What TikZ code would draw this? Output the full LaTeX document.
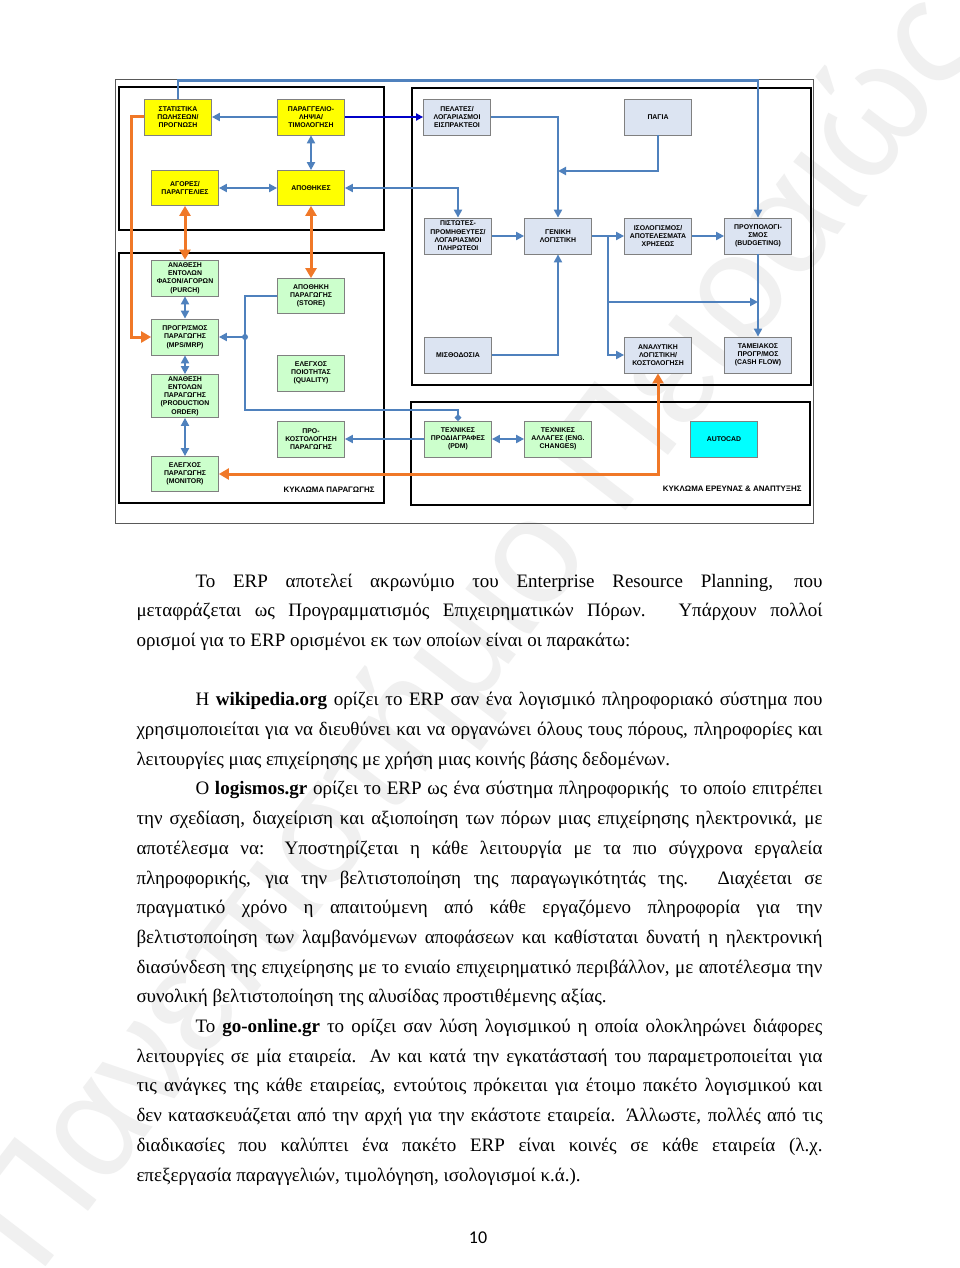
\documentclass[tikz,border=0pt]{standalone}
\usepackage{fontspec}
\setmainfont{Liberation Serif}
\newfontfamily\diagfont{Liberation Sans}
\newfontfamily\pagenumfont{Carlito}
\usetikzlibrary{arrows.meta,positioning}

\definecolor{boxyellow}{RGB}{255,255,0}
\definecolor{boxgreen}{RGB}{204,255,204}
\definecolor{boxgray}{RGB}{220,228,242}
\definecolor{boxcyan}{RGB}{0,255,255}
\definecolor{linkblue}{RGB}{79,129,189}
\definecolor{linknavy}{RGB}{0,0,200}
\definecolor{linkorange}{RGB}{240,120,40}

\tikzset{
every picture/.style={
line width=1pt
}}
\tikzset{
  module/.style={draw=black!50, line width=0.8pt, minimum width=67pt,
    minimum height=36pt, inner sep=1pt, align=center,
    font=\diagfont\fontsize{6.9}{8.3}\selectfont\bfseries},
  sales/.style={module, fill=boxyellow},
  production/.style={module, fill=boxgreen},
  accounts/.style={module, fill=boxgray},
  circuit/.style={draw=black, line width=2.6pt},
  circuitlabel/.style={anchor=east, inner sep=0pt,
    font=\diagfont\fontsize{7.9}{9}\selectfont\bfseries},
  bluelink/.style={draw=linkblue, line width=2.2pt, >={Triangle[length=8pt,width=8pt]}},
  navylink/.style={draw=linknavy, line width=1.8pt, >={Triangle[length=7pt,width=7pt]}},
  orangelink/.style={draw=linkorange, line width=3pt, >={Triangle[length=10pt,width=11pt]}},
  bodytext/.style={anchor=base west, inner sep=0pt, font=\fontsize{19}{29.7}\selectfont}
}

% one justified line of the page text
\newcommand{\justline}[4]{%
  \node[bodytext] (#1) at (#2,{587+29.7*#3}) {\makebox[\dimexpr 822pt-#2pt\relax][s]{#4}};}
% last line of a paragraph, not stretched
\newcommand{\lastline}[4]{%
  \node[bodytext] (#1) at (#2,{587+29.7*#3}) {#4};}

\begin{document}
\begin{tikzpicture}[x=1pt, y=-1pt]
\useasboundingbox (0,0) rectangle (960,1268);
\fill[white] (0,0) rectangle (960,1268);
\begin{scope}
\clip (0,0) rectangle (960,1268);
\node[rotate=52.5, text=black!6, font=\diagfont\fontsize{150}{150}\selectfont] (watermark)
  at (480,634) {Πανεπιστήμιο Πειραιώς};
\end{scope}

% frames of the circuits
\draw[black!65, line width=0.8pt] (115,79) rectangle (813,523);
\draw[circuit] (119,87) rectangle (384,230);
\draw[circuit] (119,253) rectangle (384,503);
\draw[circuit] (412,88) rectangle (811,385);
\draw[circuit] (411,402) rectangle (810,505);
\node[circuitlabel] (prodlabel) at (375,490) {ΚΥΚΛΩΜΑ ΠΑΡΑΓΩΓΗΣ};
\node[circuitlabel] (rndlabel) at (802,489) {ΚΥΚΛΩΜΑ ΕΡΕΥΝΑΣ \& ΑΝΑΠΤΥΞΗΣ};

% sales and stores
\node[sales] (stat) at (178,117) {ΣΤΑΤΙΣΤΙΚΑ\\ΠΩΛΗΣΕΩΝ/\\ΠΡΟΓΝΩΣΗ};
\node[sales] (orders) at (311,117) {ΠΑΡΑΓΓΕΛΙΟ-\\ΛΗΨΙΑ/\\ΤΙΜΟΛΟΓΗΣΗ};
\node[sales, minimum height=35pt] (markets) at (185,188) {ΑΓΟΡΕΣ/\\ΠΑΡΑΓΓΕΛΙΕΣ};
\node[sales, minimum height=35pt] (stores) at (311,188) {ΑΠΟΘΗΚΕΣ};

% production
\node[production] (purch) at (185,278) {ΑΝΑΘΕΣΗ\\ΕΝΤΟΛΩΝ\\ΦΑΣΟΝ/ΑΓΟΡΩΝ\\(PURCH)};
\node[production] (mps) at (185,337) {ΠΡΟΓΡ/ΣΜΟΣ\\ΠΑΡΑΓΩΓΗΣ\\(MPS/MRP)};
\node[production, minimum height=43pt] (prodorder) at (185,396) {ΑΝΑΘΕΣΗ\\ΕΝΤΟΛΩΝ\\ΠΑΡΑΓΩΓΗΣ\\(PRODUCTION\\ORDER)};
\node[production, minimum height=35pt] (monitor) at (185,474) {ΕΛΕΓΧΟΣ\\ΠΑΡΑΓΩΓΗΣ\\(MONITOR)};
\node[production, minimum height=35pt] (store) at (311,296) {ΑΠΟΘΗΚΗ\\ΠΑΡΑΓΩΓΗΣ\\(STORE)};
\node[production] (quality) at (311,373) {ΕΛΕΓΧΟΣ\\ΠΟΙΟΤΗΤΑΣ\\(QUALITY)};
\node[production] (precost) at (311,439) {ΠΡΟ-\\ΚΟΣΤΟΛΟΓΗΣΗ\\ΠΑΡΑΓΩΓΗΣ};

% accounting
\node[accounts] (cust) at (457,117) {ΠΕΛΑΤΕΣ/\\ΛΟΓΑΡΙΑΣΜΟΙ\\ΕΙΣΠΡΑΚΤΕΟΙ};
\node[accounts] (assets) at (658,117) {ΠΑΓΙΑ};
\node[accounts] (suppl) at (458,236) {ΠΙΣΤΩΤΕΣ-\\ΠΡΟΜΗΘΕΥΤΕΣ/\\ΛΟΓΑΡΙΑΣΜΟΙ\\ΠΛΗΡΩΤΕΟΙ};
\node[accounts] (ledger) at (558,236) {ΓΕΝΙΚΗ\\ΛΟΓΙΣΤΙΚΗ};
\node[accounts] (balance) at (658,236) {ΙΣΟΛΟΓΙΣΜΟΣ/\\ΑΠΟΤΕΛΕΣΜΑΤΑ\\ΧΡΗΣΕΩΣ};
\node[accounts] (budget) at (758,236) {ΠΡΟΥΠΟΛΟΓΙ-\\ΣΜΟΣ\\(BUDGETING)};
\node[accounts] (payroll) at (458,355) {ΜΙΣΘΟΔΟΣΙΑ};
\node[accounts] (costing) at (658,355) {ΑΝΑΛΥΤΙΚΗ\\ΛΟΓΙΣΤΙΚΗ/\\ΚΟΣΤΟΛΟΓΗΣΗ};
\node[accounts] (cash) at (758,355) {ΤΑΜΕΙΑΚΟΣ\\ΠΡΟΓΡ/ΜΟΣ\\(CASH FLOW)};

% research and development
\node[production] (pdm) at (458,439) {ΤΕΧΝΙΚΕΣ\\ΠΡΟΔΙΑΓΡΑΦΕΣ\\(PDM)};
\node[production] (engch) at (558,439) {ΤΕΧΝΙΚΕΣ\\ΑΛΛΑΓΕΣ (ENG.\\CHANGES)};
\node[module, fill=boxcyan] (autocad) at (724,439) {AUTOCAD};

% connectors
\coordinate (assetsin) at (558,171);
\coordinate (ledgersplit) at (608,236);
\coordinate (cashin) at (758,302);
\coordinate (busturn) at (245,410);
\coordinate (busjoin) at (busturn |- mps.east);

\draw[bluelink, ->] (orders) -- (stat);
\draw[bluelink, <->] (orders) -- (stores);
\draw[bluelink, <->] (markets) -- (stores);
\draw[navylink, ->] (orders) -- (cust);
\draw[bluelink, ->] (stat.north) -- ++(0,-18) -| (budget.north);
\draw[bluelink, ->] (cust.east) -| (ledger.north);
\draw[bluelink, ->] (assets.south) |- (assetsin);
\draw[bluelink, <->] (stores.east) -| (suppl.north);
\draw[bluelink, ->] (suppl) -- (ledger);
\draw[bluelink, ->] (ledger) -- (balance);
\draw[bluelink, ->] (balance) -- (budget);
\draw[bluelink, ->] (ledgersplit) |- (costing.west);
\draw[bluelink, ->] (ledgersplit |- cashin) -- (cashin);
\draw[bluelink, ->] (budget) -- (cash);
\draw[bluelink, ->] (payroll.east) -| (ledger.south);
\draw[orangelink, <->] (monitor.east) -| (costing.south);
\draw[orangelink, ->] (stat.west) -- ++(-13,0) |- (mps.west);
\draw[orangelink, <->] (markets) -- (purch);
\draw[orangelink, <->] (stores) -- (store);
\draw[bluelink, <->] (purch) -- (mps);
\draw[bluelink, <->] (mps) -- (prodorder);
\draw[bluelink, <->] (prodorder) -- (monitor);
\draw[bluelink, -{Circle[length=6pt]}] (store.west) -| (busturn) -| (pdm.north);
\fill[linkblue] (busjoin) circle (3pt);
\draw[bluelink, ->] (busjoin) -- (mps.east);
\draw[bluelink, ->] (pdm) -- (precost);
\draw[bluelink, <->] (pdm) -- (engch);

% page text
\justline{p1a}{195}{0}{Το ERP αποτελεί ακρωνύμιο του Enterprise Resource Planning, που}
\justline{p1b}{136}{1}{μεταφράζεται ως Προγραμματισμός Επιχειρηματικών Πόρων. Υπάρχουν πολλοί}
\lastline{p1c}{136}{2}{ορισμοί για το ERP ορισμένοι εκ των οποίων είναι οι παρακάτω:}
\justline{p2a}{195}{4}{Η \textbf{wikipedia.org} ορίζει το ERP σαν ένα λογισμικό πληροφοριακό σύστημα που}
\justline{p2b}{136}{5}{χρησιμοποιείται για να διευθύνει και να οργανώνει όλους τους πόρους, πληροφορίες και}
\lastline{p2c}{136}{6}{λειτουργίες μιας επιχείρησης με χρήση μιας κοινής βάσης δεδομένων.}
\justline{p3a}{195}{7}{Ο \textbf{logismos.gr} ορίζει το ERP ως ένα σύστημα πληροφορικής \ το οποίο επιτρέπει}
\justline{p3b}{136}{8}{την σχεδίαση, διαχείριση και αξιοποίηση των πόρων μιας επιχείρησης ηλεκτρονικά, με}
\justline{p3c}{136}{9}{αποτέλεσμα να: Υποστηρίζεται η κάθε λειτουργία με τα πιο σύγχρονα εργαλεία}
\justline{p3d}{136}{10}{πληροφορικής, για την βελτιστοποίηση της παραγωγικότητάς της. Διαχέεται σε}
\justline{p3e}{136}{11}{πραγματικό χρόνο η απαιτούμενη από κάθε εργαζόμενο πληροφορία για την}
\justline{p3f}{136}{12}{βελτιστοποίηση των λαμβανόμενων αποφάσεων και καθίσταται δυνατή η ηλεκτρονική}
\justline{p3g}{136}{13}{διασύνδεση της επιχείρησης με το ενιαίο επιχειρηματικό περιβάλλον, με αποτέλεσμα την}
\lastline{p3h}{136}{14}{συνολική βελτιστοποίηση της αλυσίδας προστιθέμενης αξίας.}
\justline{p4a}{195}{15}{Το \textbf{go-online.gr} το ορίζει σαν λύση λογισμικού η οποία ολοκληρώνει διάφορες}
\justline{p4b}{136}{16}{λειτουργίες σε μία εταιρεία. Αν και κατά την εγκατάστασή του παραμετροποιείται για}
\justline{p4c}{136}{17}{τις ανάγκες της κάθε εταιρείας, εντούτοις πρόκειται για έτοιμο πακέτο λογισμικού και}
\justline{p4d}{136}{18}{δεν κατασκευάζεται από την αρχή για την εκάστοτε εταιρεία. Άλλωστε, πολλές από τις}
\justline{p4e}{136}{19}{διαδικασίες που καλύπτει ένα πακέτο ERP είναι κοινές σε κάθε εταιρεία (λ.χ.}
\lastline{p4f}{136}{20}{επεξεργασία παραγγελιών, τιμολόγηση, ισολογισμοί κ.ά.).}
\node[font=\pagenumfont\fontsize{18}{20}\selectfont] (pagenum) at (478,1238) {10};
\end{tikzpicture}
\end{document}
